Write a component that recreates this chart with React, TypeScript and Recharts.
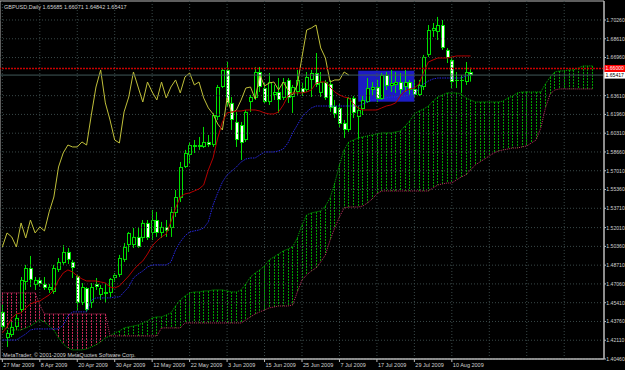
import React from 'react';
import { ComposedChart, Bar, Line, XAxis, YAxis, ReferenceLine, ReferenceArea } from 'recharts';

// ---------- data ----------
const dateLabels = ['27 Mar 2009', '8 Apr 2009', '20 Apr 2009', '30 Apr 2009', '12 May 2009', '22 May 2009', '3 Jun 2009', '15 Jun 2009', '25 Jun 2009', '7 Jul 2009', '17 Jul 2009', '29 Jul 2009', '10 Aug 2009'];
const dateLabelIndex = [0, 8, 16, 24, 32, 40, 48, 56, 64, 72, 80, 88, 96];
const gridIndex = [0, 8, 16, 24, 32, 40, 48, 56, 64, 72, 80, 88, 96, 104, 112, 120];
const priceTicks = [1.7026, 1.6861, 1.6696, 1.6361, 1.6196, 1.6031, 1.5866, 1.5701, 1.5536, 1.5371, 1.5201, 1.5036, 1.4871, 1.4706, 1.4541, 1.4376, 1.4211, 1.4046];

const opens = [
  1.4460, 1.4231, 1.4257, 1.4328, 1.4477, 1.4723, 1.4846, 1.4697, 1.4741, 1.4706,
  1.4653, 1.4635, 1.4829, 1.4890, 1.4987, 1.4899, 1.4776, 1.4539, 1.4670, 1.4539,
  1.4706, 1.4609, 1.4635, 1.4627, 1.4758, 1.4785, 1.4917, 1.5048, 1.5048, 1.5119,
  1.5110, 1.5242, 1.5154, 1.5268, 1.5154, 1.5207, 1.5198, 1.5330, 1.5462, 1.5734,
  1.5840, 1.5927, 1.5927, 1.5910, 1.5954, 1.5927, 1.6174, 1.6437, 1.6587, 1.6297,
  1.6130, 1.6103, 1.5971, 1.6305, 1.6341, 1.6569, 1.6428, 1.6305, 1.6367, 1.6393,
  1.6341, 1.6499, 1.6349, 1.6393, 1.6428, 1.6411, 1.6499, 1.6560, 1.6385, 1.6481,
  1.6464, 1.6270, 1.6253, 1.6121, 1.6059, 1.6341, 1.6174, 1.6244, 1.6305, 1.6411,
  1.6437, 1.6332, 1.6543, 1.6446, 1.6455, 1.6481, 1.6437, 1.6481, 1.6420, 1.6367,
  1.6437, 1.6719, 1.6930, 1.6921, 1.6982, 1.6763, 1.6675, 1.6490, 1.6490, 1.6481,
  1.65685,
];
const highs = [
  1.4521, 1.4301, 1.4372, 1.4442, 1.4767, 1.4873, 1.4952, 1.4767, 1.4767, 1.4767,
  1.4706, 1.4873, 1.4934, 1.5048, 1.5022, 1.4917, 1.4785, 1.4714, 1.4679, 1.4714,
  1.4758, 1.4697, 1.4714, 1.4758, 1.4802, 1.4961, 1.5066, 1.5163, 1.5198, 1.5207,
  1.5268, 1.5268, 1.5356, 1.5339, 1.5251, 1.5268, 1.5382, 1.5532, 1.5778, 1.5884,
  1.5954, 1.5971, 1.5998, 1.6086, 1.6015, 1.6209, 1.6455, 1.6604, 1.6657, 1.6349,
  1.6218, 1.6130, 1.6235, 1.6367, 1.6613, 1.6613, 1.6481, 1.6560, 1.6455, 1.6516,
  1.6516, 1.6516, 1.6455, 1.6587, 1.6472, 1.6569, 1.6587, 1.6736, 1.6569, 1.6499,
  1.6499, 1.6323, 1.6297, 1.6147, 1.6349, 1.6358, 1.6270, 1.6358, 1.6516, 1.6481,
  1.6499, 1.6560, 1.6569, 1.6587, 1.6569, 1.6560, 1.6587, 1.6499, 1.6499, 1.6499,
  1.6719, 1.6982, 1.7000, 1.7053, 1.7026, 1.6780, 1.6701, 1.6569, 1.6543, 1.6657,
  1.66071,
];
const lows = [
  1.4301, 1.4152, 1.4240, 1.4310, 1.4451, 1.4653, 1.4679, 1.4653, 1.4679, 1.4653,
  1.4627, 1.4618, 1.4811, 1.4873, 1.4881, 1.4758, 1.4477, 1.4521, 1.4460, 1.4495,
  1.4653, 1.4565, 1.4539, 1.4591, 1.4723, 1.4767, 1.4899, 1.4987, 1.5022, 1.5022,
  1.5075, 1.5092, 1.5092, 1.5119, 1.5110, 1.5119, 1.5119, 1.5295, 1.5426, 1.5725,
  1.5769, 1.5857, 1.5884, 1.5901, 1.5910, 1.5910, 1.6147, 1.6428, 1.6261, 1.6059,
  1.5910, 1.5796, 1.5954, 1.6218, 1.6323, 1.6393, 1.6297, 1.6279, 1.6323, 1.6209,
  1.6323, 1.6297, 1.6209, 1.6367, 1.6358, 1.6393, 1.6349, 1.6437, 1.6349, 1.6323,
  1.6218, 1.6165, 1.6086, 1.5989, 1.6042, 1.6165, 1.5989, 1.6191, 1.6297, 1.6367,
  1.6305, 1.6323, 1.6411, 1.6393, 1.6385, 1.6376, 1.6393, 1.6367, 1.6349, 1.6358,
  1.6411, 1.6701, 1.6877, 1.6850, 1.6763, 1.6648, 1.6428, 1.6428, 1.6385, 1.6455,
  1.64842,
];
const closes = [
  1.4328, 1.4275, 1.4328, 1.4407, 1.4741, 1.4846, 1.4741, 1.4741, 1.4706, 1.4670,
  1.4679, 1.4846, 1.4899, 1.4987, 1.4917, 1.4846, 1.4539, 1.4679, 1.4477, 1.4679,
  1.4679, 1.4670, 1.4618, 1.4750, 1.4785, 1.4934, 1.5031, 1.5154, 1.5119, 1.5031,
  1.5242, 1.5110, 1.5268, 1.5154, 1.5207, 1.5172, 1.5339, 1.5470, 1.5734, 1.5857,
  1.5927, 1.5910, 1.5910, 1.5954, 1.5927, 1.6191, 1.6437, 1.6587, 1.6297, 1.6147,
  1.5971, 1.5945, 1.6218, 1.6349, 1.6569, 1.6437, 1.6305, 1.6481, 1.6393, 1.6323,
  1.6481, 1.6341, 1.6437, 1.6499, 1.6385, 1.6525, 1.6560, 1.6455, 1.6481, 1.6341,
  1.6253, 1.6200, 1.6112, 1.6059, 1.6341, 1.6209, 1.6235, 1.6323, 1.6428, 1.6437,
  1.6332, 1.6543, 1.6446, 1.6472, 1.6481, 1.6411, 1.6481, 1.6411, 1.6367, 1.6455,
  1.6701, 1.6938, 1.6956, 1.6982, 1.6780, 1.6692, 1.6481, 1.6499, 1.6499, 1.6569,
  1.65417,
];
const tenkanSen = [
  1.4275, 1.4328, 1.4407, 1.4442, 1.4451, 1.4495, 1.4530, 1.4547, 1.4556, 1.4583,
  1.4609, 1.4653, 1.4741, 1.4802, 1.4829, 1.4811, 1.4776, 1.4750, 1.4732, 1.4732,
  1.4732, 1.4723, 1.4714, 1.4679, 1.4670, 1.4688, 1.4732, 1.4776, 1.4829, 1.4873,
  1.4908, 1.4969, 1.5040, 1.5084, 1.5119, 1.5145, 1.5251, 1.5374, 1.5470, 1.5497,
  1.5506, 1.5523, 1.5541, 1.5576, 1.5708, 1.5813, 1.5989, 1.6130, 1.6209, 1.6218,
  1.6226, 1.6226, 1.6235, 1.6235, 1.6235, 1.6226, 1.6209, 1.6200, 1.6200, 1.6218,
  1.6279, 1.6358, 1.6385, 1.6385, 1.6385, 1.6393, 1.6411, 1.6472, 1.6481, 1.6481,
  1.6437, 1.6393, 1.6367, 1.6349, 1.6341, 1.6288, 1.6253, 1.6235, 1.6235, 1.6235,
  1.6235, 1.6253, 1.6270, 1.6279, 1.6297, 1.6358, 1.6402, 1.6420, 1.6428, 1.6464,
  1.6569, 1.6657, 1.6675, 1.6692, 1.6692, 1.6692, 1.6701, 1.6710, 1.6710, 1.6710,
  1.6710,
];
const kijunSen = [
  1.4213, 1.4213, 1.4213, 1.4213, 1.4240, 1.4266, 1.4301, 1.4310, 1.4310, 1.4310,
  1.4310, 1.4310, 1.4310, 1.4345, 1.4424, 1.4460, 1.4460, 1.4460, 1.4460, 1.4565,
  1.4583, 1.4583, 1.4583, 1.4583, 1.4591, 1.4591, 1.4635, 1.4679, 1.4758, 1.4793,
  1.4820, 1.4855, 1.4873, 1.4873, 1.4873, 1.4873, 1.4899, 1.5004, 1.5075, 1.5128,
  1.5163, 1.5172, 1.5180, 1.5198, 1.5251, 1.5400, 1.5506, 1.5602, 1.5664, 1.5699,
  1.5734, 1.5778, 1.5804, 1.5813, 1.5813, 1.5840, 1.5866, 1.5866, 1.5866, 1.5875,
  1.5892, 1.5945, 1.6033, 1.6103, 1.6174, 1.6218, 1.6253, 1.6270, 1.6270, 1.6270,
  1.6270, 1.6270, 1.6270, 1.6270, 1.6270, 1.6270, 1.6270, 1.6288, 1.6305, 1.6323,
  1.6323, 1.6323, 1.6341, 1.6349, 1.6349, 1.6358, 1.6358, 1.6367, 1.6367, 1.6428,
  1.6464, 1.6490, 1.6508, 1.6516, 1.6516, 1.6516, 1.6516, 1.6516, 1.6516, 1.6534,
  1.6543,
];
// lagging span: the closes plotted 26 bars back
const chikouSpan = closes.slice(26);
const senkouA = [
  1.4319, 1.4319, 1.4301, 1.4301, 1.4301, 1.4319, 1.4336, 1.4363, 1.4389, 1.4372,
  1.4336, 1.4301, 1.4231, 1.4178, 1.4143, 1.4126, 1.4126, 1.4126, 1.4134, 1.4152,
  1.4170, 1.4196, 1.4231, 1.4249, 1.4275, 1.4292, 1.4319, 1.4328, 1.4336, 1.4345,
  1.4363, 1.4380, 1.4407, 1.4416, 1.4416, 1.4433, 1.4451, 1.4512, 1.4565, 1.4600,
  1.4627, 1.4635, 1.4635, 1.4644, 1.4644, 1.4653, 1.4653, 1.4653, 1.4644, 1.4635,
  1.4635, 1.4653, 1.4706, 1.4767, 1.4802, 1.4829, 1.4864, 1.4917, 1.4943, 1.4969,
  1.4996, 1.5013, 1.5031, 1.5110, 1.5224, 1.5312, 1.5330, 1.5339, 1.5347, 1.5391,
  1.5462, 1.5593, 1.5752, 1.5884, 1.5954, 1.5971, 1.5989, 1.5998, 1.6007, 1.6015,
  1.6024, 1.6033, 1.6033, 1.6033, 1.6042, 1.6050, 1.6094, 1.6138, 1.6200, 1.6226,
  1.6244, 1.6270, 1.6314, 1.6349, 1.6367, 1.6385, 1.6385, 1.6385, 1.6376, 1.6341,
  1.6323, 1.6305, 1.6305, 1.6305, 1.6305, 1.6305, 1.6305, 1.6314, 1.6341, 1.6358,
  1.6385, 1.6393, 1.6393, 1.6393, 1.6393, 1.6393, 1.6464, 1.6525, 1.6569, 1.6578,
  1.6578, 1.6587, 1.6587, 1.6604, 1.6622, 1.6622, 1.6622,
];
const senkouB = [
  1.4627, 1.4627, 1.4627, 1.4627, 1.4627, 1.4627, 1.4627, 1.4627, 1.4521, 1.4442,
  1.4442, 1.4442, 1.4442, 1.4442, 1.4442, 1.4442, 1.4442, 1.4442, 1.4442, 1.4442,
  1.4442, 1.4442, 1.4442, 1.4249, 1.4249, 1.4249, 1.4249, 1.4249, 1.4249, 1.4249,
  1.4249, 1.4249, 1.4249, 1.4249, 1.4319, 1.4319, 1.4319, 1.4319, 1.4319, 1.4363,
  1.4363, 1.4363, 1.4363, 1.4363, 1.4363, 1.4363, 1.4363, 1.4363, 1.4363, 1.4363,
  1.4363, 1.4363, 1.4389, 1.4416, 1.4442, 1.4460, 1.4477, 1.4495, 1.4503, 1.4512,
  1.4512, 1.4512, 1.4521, 1.4635, 1.4741, 1.4785, 1.4820, 1.4846, 1.4899, 1.4961,
  1.5092, 1.5198, 1.5295, 1.5374, 1.5382, 1.5382, 1.5382, 1.5391, 1.5418, 1.5453,
  1.5497, 1.5523, 1.5523, 1.5523, 1.5523, 1.5523, 1.5523, 1.5523, 1.5523, 1.5523,
  1.5523, 1.5523, 1.5550, 1.5576, 1.5585, 1.5593, 1.5593, 1.5620, 1.5646, 1.5664,
  1.5708, 1.5752, 1.5778, 1.5804, 1.5831, 1.5857, 1.5875, 1.5884, 1.5892, 1.5901,
  1.5901, 1.5910, 1.5919, 1.5945, 1.5971, 1.6077, 1.6253, 1.6376, 1.6411, 1.6420,
  1.6420, 1.6420, 1.6420, 1.6420, 1.6420, 1.6420, 1.6420,
];

const titleText = 'GBPUSD,Daily  1.65685 1.66071 1.64842 1.65417';
const copyrightText = 'MetaTrader, \u00a9 2001-2009 MetaQuotes Software Corp.';
const levelPrice = 1.66;
const bidPrice = 1.65417;
const boxFromIndex = 76;
const boxToIndex = 88;
const boxTopPrice = 1.658;
const boxBottomPrice = 1.6308;
const slotCount = 129;
const yMin = 1.4046;
const yMax = 1.7193;

// ---------- style ----------
const FONT = '"Liberation Sans", Arial, sans-serif';
const SMALL = 5.5;
const PRICE_FONT = 5.1;
const COL = {
  bg: '#000000',
  grid: '#394848',
  axis: '#bcbcbc',
  text: '#d2d2d2',
  candle: '#00e000',
  bear: '#ffffff',
  bull: '#000000',
  tenkan: '#b40000',
  kijun: '#2828e0',
  chikou: '#c0c03a',
  cloudUp: '#00a000',
  cloudDown: '#c8285a',
  spanA: '#00b400',
  spanB: '#c03060',
  box: '#1c1cc4',
  level: '#c80000',
  bid: '#405858',
};

const rows = Array.from({ length: slotCount }, (_, i) => {
  const hasCandle = i < opens.length;
  const a = i < senkouA.length ? senkouA[i] : null;
  const b = i < senkouB.length ? senkouB[i] : null;
  return {
    i,
    o: hasCandle ? opens[i] : null,
    h: hasCandle ? highs[i] : null,
    l: hasCandle ? lows[i] : null,
    c: hasCandle ? closes[i] : null,
    candle: hasCandle ? [lows[i], highs[i]] : null,
    tenkan: i < tenkanSen.length ? tenkanSen[i] : null,
    kijun: i < kijunSen.length ? kijunSen[i] : null,
    chikou: i < chikouSpan.length ? chikouSpan[i] : null,
    a,
    b,
    cloud: a != null && b != null ? [Math.min(a, b), Math.max(a, b)] : null,
    up: a != null && b != null ? a >= b : true,
  };
});

function CandleShape(props: any) {
  const { x, y, width, height, payload } = props;
  if (!payload || payload.o == null || !isFinite(y) || !isFinite(height)) return null;
  const top = Math.min(y, y + height);
  const bot = Math.max(y, y + height);
  const span = payload.h - payload.l;
  const k = span > 0 ? (bot - top) / span : 0;
  const py = (v: number) => top + (payload.h - v) * k;
  const cx = Math.floor(x + width / 2);
  const bTop = py(Math.max(payload.o, payload.c));
  const bBot = py(Math.min(payload.o, payload.c));
  const bh = Math.max(1, bBot - bTop);
  const bear = payload.c < payload.o;
  return (
    <g>
      <rect x={cx} y={top} width={1} height={Math.max(1, bot - top)} fill={COL.candle} />
      <rect x={cx - 1} y={bTop} width={4} height={bh} fill={COL.candle} />
      {bh > 2 && <rect x={cx} y={bTop + 1} width={2} height={bh - 2} fill={bear ? COL.bear : COL.bull} />}
    </g>
  );
}

function CloudShape(props: any) {
  const { x, y, width, height, payload } = props;
  if (!payload || !payload.cloud || !isFinite(y) || !isFinite(height)) return null;
  const top = Math.min(y, y + height);
  const bot = Math.max(y, y + height);
  const cx = Math.floor(x + width / 2) + 0.5;
  return (
    <line x1={cx} x2={cx} y1={top} y2={bot} stroke={payload.up ? COL.cloudUp : COL.cloudDown} strokeWidth={1} strokeDasharray="2 1" />
  );
}

function BoxShape(props: any) {
  const { x, y, width, height } = props;
  const bands = boxToIndex - boxFromIndex + 1;
  const half = width / bands / 2;
  return <rect x={x + half} y={Math.min(y, y + height)} width={width - 2 * half} height={Math.abs(height)} fill={COL.box} />;
}

function DateLabel(props: any) {
  const vb = props.viewBox || {};
  const x = vb.x ?? 0;
  const bottom = Math.max(vb.y ?? 0, (vb.y ?? 0) + (vb.height ?? 0));
  if (!props.text) return null;
  return (
    <g>
      <line x1={x} x2={x} y1={bottom} y2={bottom + 3} stroke={COL.axis} strokeWidth={1} />
      <text x={x + 1} y={bottom + 8.3} fill={COL.text} fontSize={SMALL} fontFamily={FONT}>{props.text}</text>
    </g>
  );
}

function PriceLabel(props: any) {
  const vb = props.viewBox || {};
  const right = Math.max(vb.x ?? 0, (vb.x ?? 0) + (vb.width ?? 0));
  const y = vb.y ?? 0;
  return (
    <g>
      <line x1={right} x2={right + 2} y1={y} y2={y} stroke={COL.axis} strokeWidth={1} />
      <text x={right + 2.3} y={y + 1.9} fill={COL.text} fontSize={PRICE_FONT} fontFamily={FONT}>{props.text}</text>
    </g>
  );
}

function BoxLabel(props: any) {
  const vb = props.viewBox || {};
  const right = Math.max(vb.x ?? 0, (vb.x ?? 0) + (vb.width ?? 0));
  const y = vb.y ?? 0;
  return (
    <g>
      <rect x={right} y={y - 3.5} width={21} height={7} fill={props.fill} />
      <text x={right + 1.5} y={y + 1.9} fill={props.color} fontSize={PRICE_FONT} fontFamily={FONT}>{props.text}</text>
    </g>
  );
}

export default function App() {
  return (
    <div style={{ position: 'absolute', left: 0, top: 0, width: 625, height: 370, background: COL.bg, overflow: 'hidden' }}>
      <ComposedChart width={625} height={370} data={rows} margin={{ top: 1, right: 0, bottom: 0, left: 0 }}>
        <XAxis dataKey="i" height={11} tick={false} tickLine={false} axisLine={{ stroke: COL.axis }} />
        <XAxis xAxisId="c" dataKey="i" hide />
        <YAxis orientation="right" width={21} type="number" domain={[yMin, yMax]} allowDataOverflow tick={false} tickLine={false} axisLine={{ stroke: COL.axis }} />

        {priceTicks.map((v) => (
          <ReferenceLine key={'hy' + v} y={v} stroke={COL.grid} strokeDasharray="1 2" label={(p: any) => <PriceLabel {...p} text={v.toFixed(5)} />} />
        ))}
        {gridIndex.map((gi) => {
          const li = dateLabelIndex.indexOf(gi);
          return (
            <ReferenceLine key={'vx' + gi} x={gi} stroke={COL.grid} strokeDasharray="1 2" label={(p: any) => <DateLabel {...p} text={li >= 0 ? dateLabels[li] : ''} />} />
          );
        })}

        <ReferenceArea x1={boxFromIndex} x2={boxToIndex} y1={boxBottomPrice} y2={boxTopPrice} shape={(p: any) => <BoxShape {...p} />} />

        <Bar xAxisId="c" dataKey="cloud" isAnimationActive={false} shape={(p: any) => <CloudShape {...p} />} />
        <Line dataKey="a" stroke={COL.spanA} strokeWidth={1} strokeDasharray="1 1" dot={false} activeDot={false} isAnimationActive={false} />
        <Line dataKey="b" stroke={COL.spanB} strokeWidth={1} strokeDasharray="1 1" dot={false} activeDot={false} isAnimationActive={false} />
        <Line dataKey="chikou" stroke={COL.chikou} strokeWidth={1} dot={false} activeDot={false} isAnimationActive={false} />
        <Line dataKey="kijun" stroke={COL.kijun} strokeWidth={1} strokeDasharray="1.5 1" dot={false} activeDot={false} isAnimationActive={false} />
        <Line dataKey="tenkan" stroke={COL.tenkan} strokeWidth={1} dot={false} activeDot={false} isAnimationActive={false} />
        <Bar dataKey="candle" isAnimationActive={false} shape={(p: any) => <CandleShape {...p} />} />

        <ReferenceLine y={bidPrice} stroke={COL.bid} strokeWidth={1} label={(p: any) => <BoxLabel {...p} text={bidPrice.toFixed(5)} fill="#ffffff" color="#000000" />} />
        <ReferenceLine y={levelPrice} stroke={COL.level} strokeWidth={1.5} strokeDasharray="2 1" label={(p: any) => <BoxLabel {...p} text={levelPrice.toFixed(5)} fill="#ff0000" color="#ffffff" />} />
        <ReferenceArea x1={0} x2={slotCount - 1} y1={yMin} y2={yMax} fill="none" fillOpacity={0} stroke={COL.axis} strokeWidth={1} />
      </ComposedChart>
      <svg width={625} height={370} style={{ position: 'absolute', left: 0, top: 0, pointerEvents: 'none' }}>
        <text x={4} y={8.5} fill={COL.text} fontSize={SMALL} fontFamily={FONT}>{titleText}</text>
        <text x={3} y={357} fill={COL.text} fontSize={SMALL} fontFamily={FONT}>{copyrightText}</text>
      </svg>
    </div>
  );
}
